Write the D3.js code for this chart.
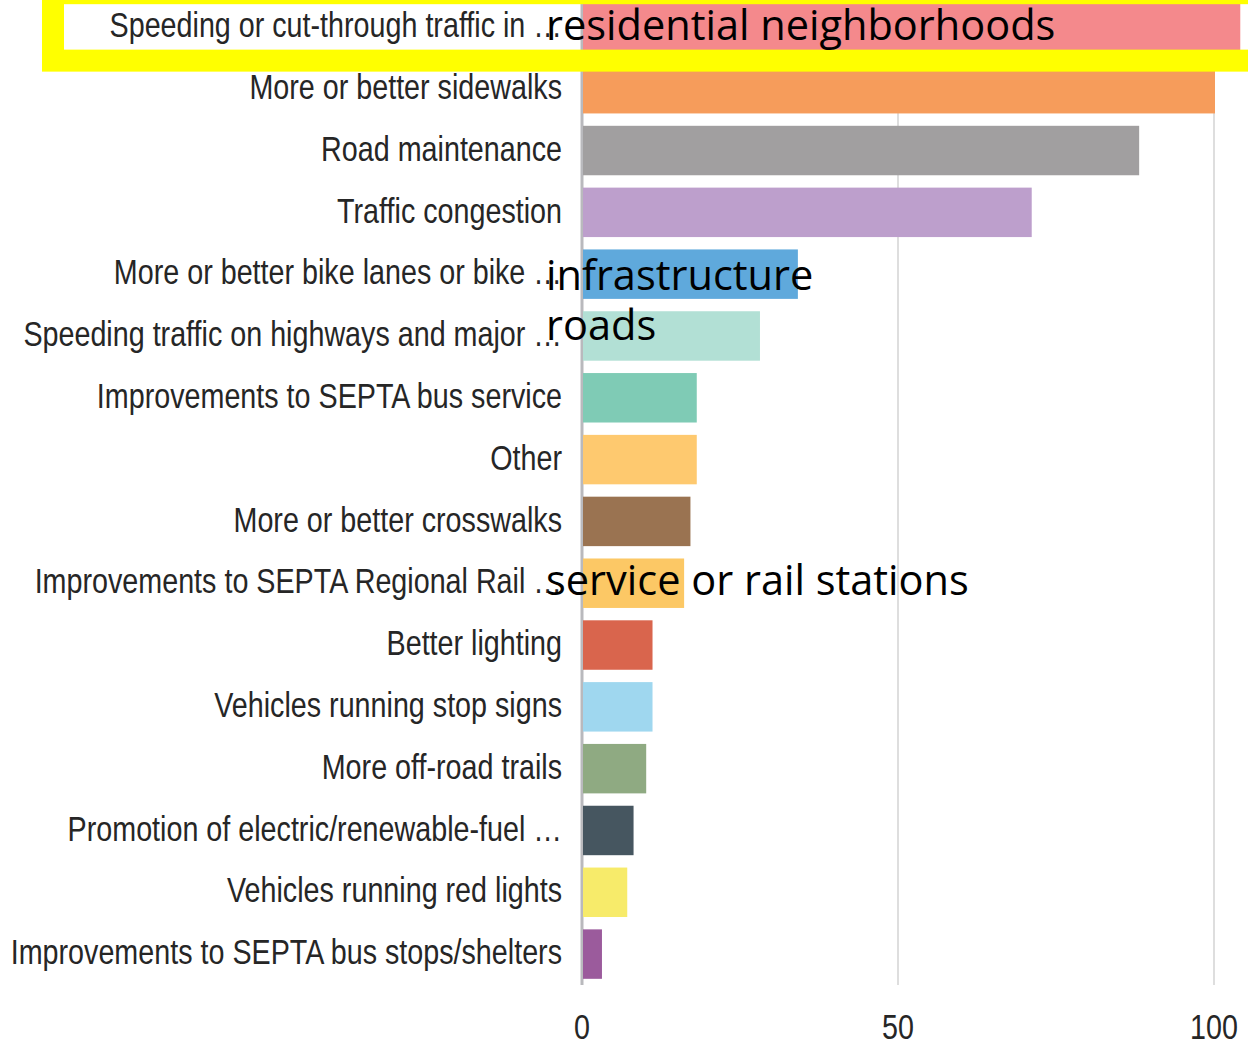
<!DOCTYPE html>
<html>
<head>
<meta charset="utf-8">
<script src="https://cdn.jsdelivr.net/npm/d3@7"></script>
<style>
  body { margin: 0; background: #fff; }
  svg { display: block; }
  .bar-label { font-family: "Liberation Sans", Arial, sans-serif; font-size: 35px; fill: #262626; }
  .tick-label { font-family: "Liberation Sans", Arial, sans-serif; font-size: 35px; fill: #262626; }
  .overlay { font-family: "Open Sans", sans-serif; font-size: 41.5px; fill: #000; }
</style>
</head>
<body>
<div id="chart"></div>
<script>
const width = 1248;
const height = 1047;

// categories as they show on the axis (long ones get cut with an ellipsis)
const categories = [
  "Speeding or cut-through traffic in \u2026",
  "More or better sidewalks",
  "Road maintenance",
  "Traffic congestion",
  "More or better bike lanes or bike \u2026",
  "Speeding traffic on highways and major \u2026",
  "Improvements to SEPTA bus service",
  "Other",
  "More or better crosswalks",
  "Improvements to SEPTA Regional Rail \u2026",
  "Better lighting",
  "Vehicles running stop signs",
  "More off-road trails",
  "Promotion of electric/renewable-fuel \u2026",
  "Vehicles running red lights",
  "Improvements to SEPTA bus stops/shelters"
];

const counts = [104, 100, 88, 71, 34, 28, 18, 18, 17, 16, 11, 11, 10, 8, 7, 3];

const barColours = [
  "#f4898c", "#f69c5b", "#a19fa0", "#bd9fcc", "#5fa9dc", "#b2e0d5",
  "#7fcbb5", "#fec96f", "#9a7351", "#fcc865", "#d9654d", "#9fd7ef",
  "#8faa82", "#465660", "#f7eb6a", "#9b5b9c"
];

const xTicks = [0, 50, 100];

// the rest of the cut-off labels, typed over the chart
const overlayRows = [0, 4, 5, 9];
const overlayTexts = ["residential neighborhoods", "infrastructure", "roads", "service or rail stations"];
const overlayDy = [13, 16, 4, 12];

const rows = categories.map((c, i) => ({ Category: c, Count: counts[i], Colour: barColours[i] }));

const svg = d3.select("#chart")
  .append("svg")
  .attr("width", width)
  .attr("height", height);

// Scales
const xScale = d3.scaleLinear()
  .domain([0, 100])
  .range([582, 1214]);

const yScale = d3.scaleBand()
  .domain(categories)
  .range([-4, 985])
  .paddingInner(0.2)
  .paddingOuter(0.1);

const plotBottom = 985;
const labelRight = 562;
const narrow = 0.82; // squeeze Liberation Sans to look like Arial Narrow

// Gridlines behind the bars
svg.append("g")
  .selectAll("line")
  .data(xTicks.slice(1))
  .join("line")
    .attr("x1", d => xScale(d))
    .attr("x2", d => xScale(d))
    .attr("y1", 0)
    .attr("y2", plotBottom)
    .attr("stroke", "#dedede")
    .attr("stroke-width", 2);

// zero line
svg.append("line")
  .attr("x1", xScale(0))
  .attr("x2", xScale(0))
  .attr("y1", 0)
  .attr("y2", plotBottom)
  .attr("stroke", "#b9b9bd")
  .attr("stroke-width", 3);

// Bars
svg.append("g")
  .selectAll("rect")
  .data(rows)
  .join("rect")
    .attr("x", xScale(0) + 1)
    .attr("y", d => yScale(d.Category))
    .attr("width", d => xScale(d.Count) - xScale(0))
    .attr("height", yScale.bandwidth())
    .attr("fill", d => d.Colour);

// Category labels
svg.append("g")
  .selectAll("text")
  .data(rows)
  .join("text")
    .attr("class", "bar-label")
    .attr("transform", d => `translate(${labelRight}, ${yScale(d.Category) + yScale.bandwidth() / 2}) scale(${narrow}, 1)`)
    .attr("text-anchor", "end")
    .attr("dy", "0.29em")
    .text(d => d.Category);

// x tick labels
svg.append("g")
  .selectAll("text")
  .data(xTicks)
  .join("text")
    .attr("class", "tick-label")
    .attr("transform", d => `translate(${xScale(d)}, 1039) scale(${narrow}, 1)`)
    .attr("text-anchor", "middle")
    .text(d => d);

// Yellow highlight frame round the first row (top edge runs off the page)
const firstTop = yScale(categories[0]);
svg.append("rect")
  .attr("x", 53)
  .attr("y", firstTop - 9)
  .attr("width", 1300)
  .attr("height", yScale.bandwidth() + 18)
  .attr("fill", "none")
  .attr("stroke", "#ffff00")
  .attr("stroke-width", 22);

// Overlaid text finishing the truncated labels
svg.append("g")
  .selectAll("text")
  .data(overlayRows)
  .join("text")
    .attr("class", "overlay")
    .attr("x", 546)
    .attr("y", (d, i) => yScale(categories[d]) + yScale.bandwidth() / 2 + overlayDy[i])
    .text((d, i) => overlayTexts[i]);
</script>
</body>
</html>
